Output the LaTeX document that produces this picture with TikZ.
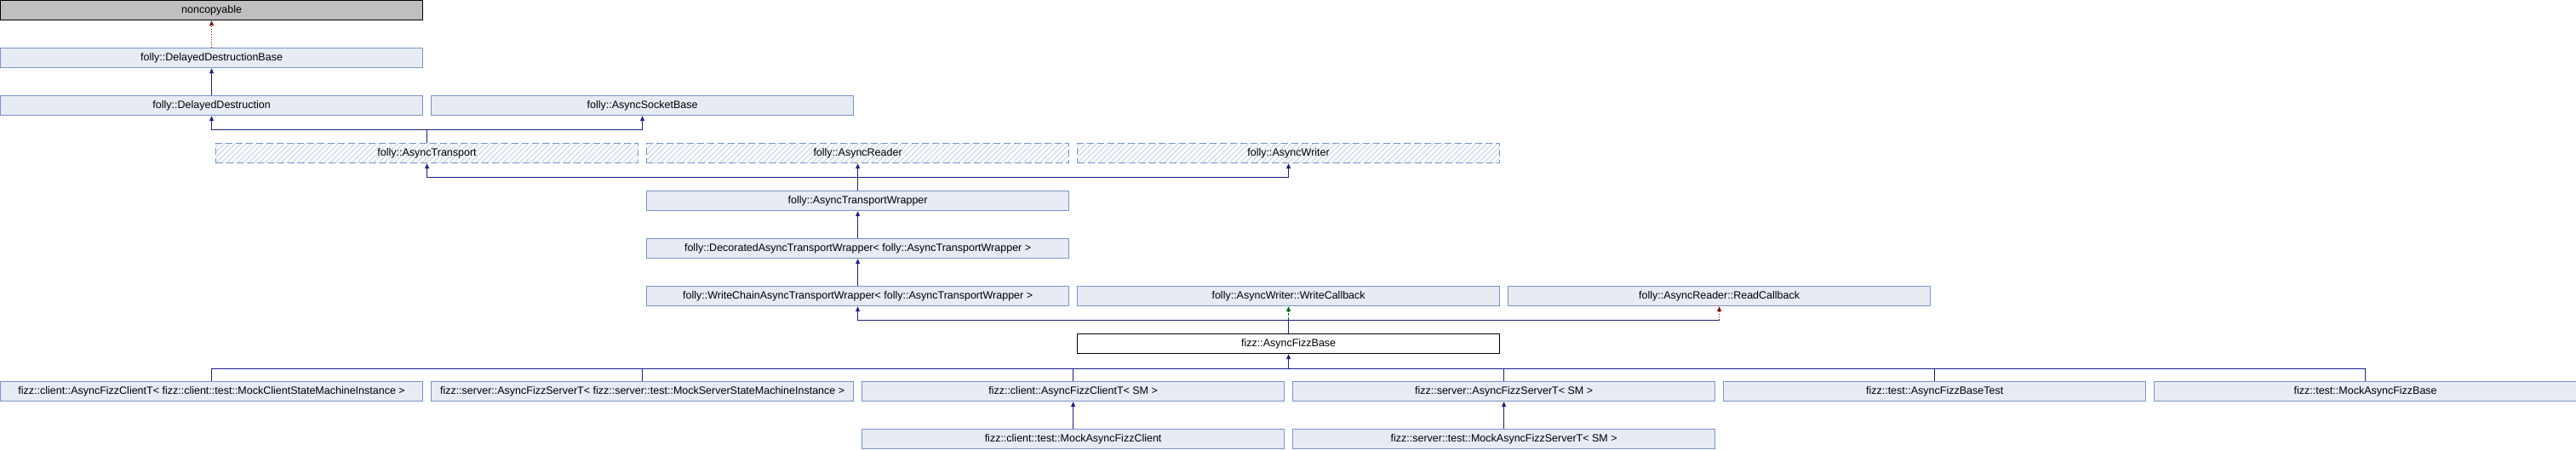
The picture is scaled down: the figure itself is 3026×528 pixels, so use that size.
\documentclass[tikz,border=0pt]{standalone}
\usepackage{fontspec}
\setmainfont{Liberation Sans}
\usetikzlibrary{calc,positioning,patterns.meta,arrows.meta}
\definecolor{clsblue}{HTML}{7B93C9}
\definecolor{clsfill}{HTML}{E7EBF4}
\definecolor{hatchblue}{HTML}{DDE3EF}
\definecolor{edgeblue}{HTML}{1E1E8C}
\definecolor{edgered}{HTML}{8B0000}
\definecolor{edgegreen}{HTML}{006400}
\definecolor{basegray}{HTML}{BFBFBF}

\begin{document}
\begin{tikzpicture}[x=1pt, y=-1pt,
  cls/.style={draw=clsblue, fill=clsfill, line width=1.2pt, anchor=north west,
    minimum width=496pt, minimum height=23pt, inner sep=0pt,
    font=\fontsize{12.5}{14}\selectfont},
  basecls/.style={cls, draw=black, fill=basegray},
  curcls/.style={cls, draw=black, fill=white},
  ifacecls/.style={cls, fill=none, dash pattern=on 8pt off 4pt,
    preaction={fill=white},
    preaction={pattern={Lines[angle=45,distance=4.5pt,line width=2pt]}, pattern color=hatchblue}},
  tip/.style={-{Triangle[length=6pt,width=5pt]}},
  trunk/.style={edgeblue, line width=1pt},
  stub/.style={edgeblue, line width=0.8pt},
  pubedge/.style={trunk, tip},
  protedge/.style={edgegreen, line width=1pt, dash pattern=on 3pt off 2pt, tip},
  privedge/.style={edgered, line width=1pt, dash pattern=on 1.5pt off 1.5pt, tip}]
  \useasboundingbox (0,0) rectangle (3026,528);

  \node[basecls] (noncop) at (0,0) {noncopyable};
  \node[cls] (ddbase) at (0,56) {folly::DelayedDestructionBase};
  \node[cls] (ddestr) at (0,112) {folly::DelayedDestruction};
  \node[cls] (sockbase) at (506,112) {folly::AsyncSocketBase};
  \node[ifacecls] (transport) at (253,168) {folly::AsyncTransport};
  \node[ifacecls] (reader) at (759,168) {folly::AsyncReader};
  \node[ifacecls] (writer) at (1265,168) {folly::AsyncWriter};
  \node[cls] (wrapper) at (759,224) {folly::AsyncTransportWrapper};
  \node[cls] (decorated) at (759,280) {folly::DecoratedAsyncTransportWrapper< folly::AsyncTransportWrapper >};
  \node[cls] (writechain) at (759,336) {folly::WriteChainAsyncTransportWrapper< folly::AsyncTransportWrapper >};
  \node[cls] (writecb) at (1265,336) {folly::AsyncWriter::WriteCallback};
  \node[cls] (readcb) at (1771,336) {folly::AsyncReader::ReadCallback};
  \node[curcls] (fizzbase) at (1265,392) {fizz::AsyncFizzBase};

  \node[cls] (mockclientt) at (0,448) {fizz::client::AsyncFizzClientT< fizz::client::test::MockClientStateMachineInstance >};
  \node[cls] (mockservert) at (506,448) {fizz::server::AsyncFizzServerT< fizz::server::test::MockServerStateMachineInstance >};
  \node[cls] (clientt) at (1012,448) {fizz::client::AsyncFizzClientT< SM >};
  \node[cls] (servert) at (1518,448) {fizz::server::AsyncFizzServerT< SM >};
  \node[cls] (basetest) at (2024,448) {fizz::test::AsyncFizzBaseTest};
  \node[cls] (mockbase) at (2530,448) {fizz::test::MockAsyncFizzBase};
  \node[cls] (mockclient) at (1012,504) {fizz::client::test::MockAsyncFizzClient};
  \node[cls] (mockserver) at (1518,504) {fizz::server::test::MockAsyncFizzServerT< SM >};

  \coordinate (j1) at ($(transport.north)+(0,-16)$);
  \coordinate (j2) at ($(wrapper.north)+(0,-16)$);
  \coordinate (j3) at ($(fizzbase.north)+(0,-16)$);
  \coordinate (j3r) at (readcb.south |- j3);
  \coordinate (j4) at ($(fizzbase.south)+(0,17)$);

  \draw[privedge] (ddbase.north) -- (noncop.south);
  \draw[pubedge] (ddestr.north) -- (ddbase.south);
  \draw[stub] (transport.north) -- (j1);
  \draw[pubedge] (j1) -| (ddestr.south);
  \draw[pubedge] (j1) -| (sockbase.south);
  \draw[stub] (wrapper.north) -- (j2);
  \draw[pubedge] (j2) -- (reader.south);
  \draw[pubedge] (j2) -| (transport.south);
  \draw[pubedge] (j2) -| (writer.south);
  \draw[pubedge] (decorated.north) -- (wrapper.south);
  \draw[pubedge] (writechain.north) -- (decorated.south);
  \draw[stub] (fizzbase.north) -- (j3);
  \draw[pubedge] (j3) -| (writechain.south);
  \draw[protedge] (j3) -- (writecb.south);
  \draw[trunk] (j3) -- (j3r);
  \draw[privedge] (j3r) -- (readcb.south);

  \draw[pubedge] (j4) -- (fizzbase.south);
  \draw[trunk] (mockclientt.north |- j4) -- (mockbase.north |- j4);
  \foreach \n in {mockclientt,mockservert,clientt,servert,basetest,mockbase}
    \draw[stub] (\n.north) -- (\n.north |- j4);
  \draw[pubedge] (mockclient.north) -- (clientt.south);
  \draw[pubedge] (mockserver.north) -- (servert.south);
\end{tikzpicture}
\end{document}
